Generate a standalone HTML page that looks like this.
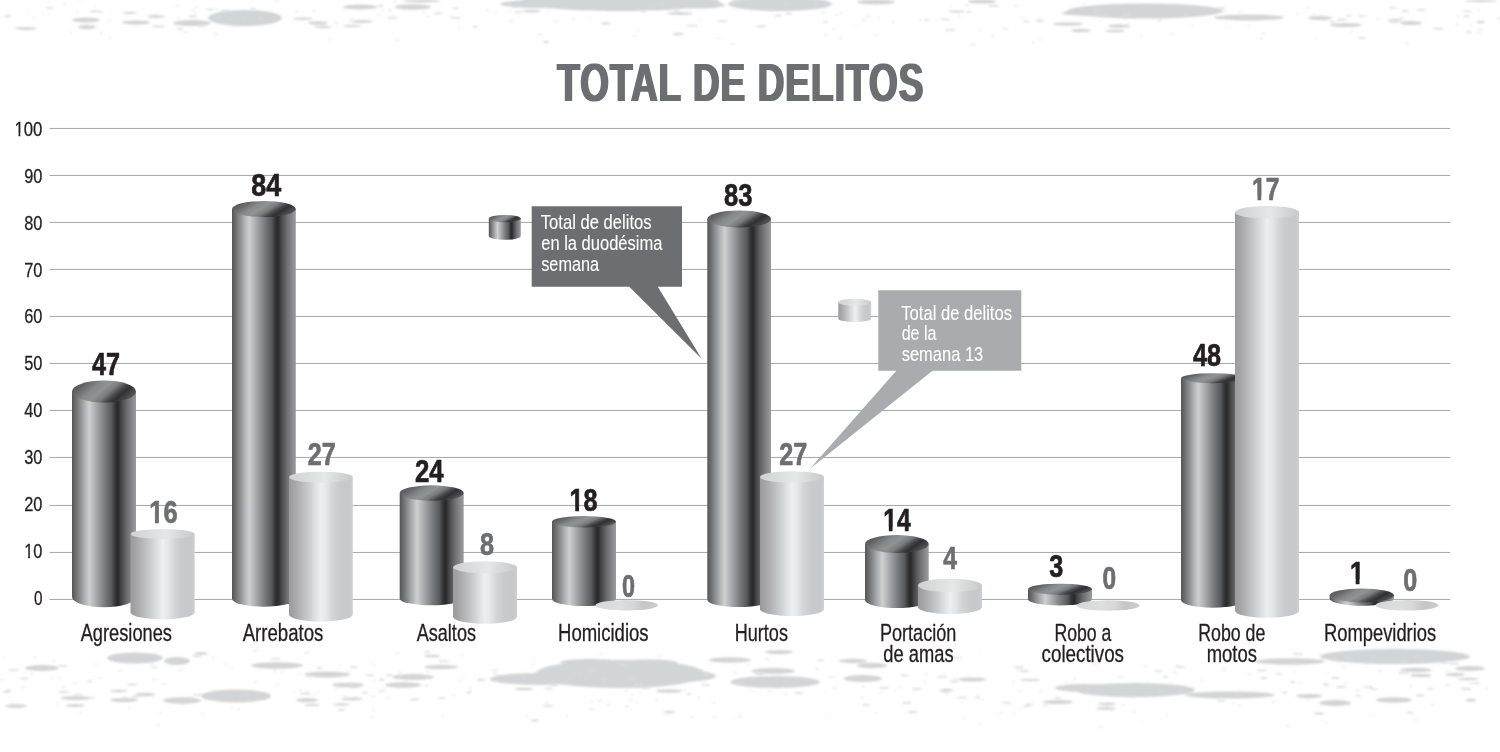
<!DOCTYPE html>
<html lang="es">
<head>
<meta charset="utf-8">
<title>Total de delitos</title>
<style>
html,body{margin:0;padding:0;background:#fff;}
body{width:1500px;height:752px;overflow:hidden;font-family:"Liberation Sans",sans-serif;}
svg{display:block;}
</style>
</head>
<body>
<svg width="1500" height="752" viewBox="0 0 1500 752" font-family="'Liberation Sans', sans-serif">
<defs>
<linearGradient id="gd" x1="0" y1="0" x2="1" y2="0"><stop offset="0" stop-color="#555556"/><stop offset="0.05" stop-color="#6a6a6b"/><stop offset="0.12" stop-color="#8a8b8d"/><stop offset="0.2" stop-color="#b0b1b3"/><stop offset="0.27" stop-color="#cdcfd1"/><stop offset="0.33" stop-color="#b9bbbd"/><stop offset="0.42" stop-color="#9a9b9f"/><stop offset="0.52" stop-color="#77787c"/><stop offset="0.62" stop-color="#58595c"/><stop offset="0.68" stop-color="#333335"/><stop offset="0.72" stop-color="#29292b"/><stop offset="0.78" stop-color="#4a4a4c"/><stop offset="0.86" stop-color="#6d6d70"/><stop offset="0.93" stop-color="#858588"/><stop offset="1" stop-color="#9c9c9f"/></linearGradient>
<linearGradient id="gl" x1="0" y1="0" x2="1" y2="0"><stop offset="0" stop-color="#9b9b9d"/><stop offset="0.05" stop-color="#a0a0a2"/><stop offset="0.15" stop-color="#b0b0b2"/><stop offset="0.3" stop-color="#c9cacc"/><stop offset="0.42" stop-color="#e0e1e3"/><stop offset="0.5" stop-color="#eeeff1"/><stop offset="0.58" stop-color="#e6e7e9"/><stop offset="0.68" stop-color="#d4d5d7"/><stop offset="0.8" stop-color="#c9cacc"/><stop offset="0.95" stop-color="#c7c8ca"/><stop offset="1" stop-color="#d0d0d2"/></linearGradient>
<linearGradient id="gdt" x1="0" y1="0.3" x2="1" y2="0.7"><stop offset="0" stop-color="#525254"/><stop offset="0.15" stop-color="#68686a"/><stop offset="0.32" stop-color="#88898b"/><stop offset="0.45" stop-color="#919294"/><stop offset="0.58" stop-color="#7a7b7d"/><stop offset="0.7" stop-color="#454547"/><stop offset="0.78" stop-color="#303032"/><stop offset="0.9" stop-color="#4a4a4c"/><stop offset="1" stop-color="#606062"/></linearGradient>
<linearGradient id="glt" x1="0" y1="0" x2="1" y2="0"><stop offset="0" stop-color="#cfd0d0"/><stop offset="0.3" stop-color="#dcdddd"/><stop offset="0.55" stop-color="#e6e7e7"/><stop offset="0.8" stop-color="#d4d5d5"/><stop offset="1" stop-color="#c8c9c9"/></linearGradient>
<linearGradient id="gz" x1="0" y1="0" x2="1" y2="0"><stop offset="0" stop-color="#d6d7d7"/><stop offset="0.4" stop-color="#dddfdf"/><stop offset="0.6" stop-color="#d6d7d7"/><stop offset="0.78" stop-color="#c5c5c6"/><stop offset="1" stop-color="#cdcdce"/></linearGradient>
<filter id="soft" x="-5%" y="-20%" width="110%" height="140%"><feGaussianBlur stdDeviation="0.9"/></filter>
<filter id="fat" x="-2%" y="-10%" width="104%" height="120%"><feMorphology operator="dilate" radius="1 0"/></filter>
<clipPath id="c1b"><path d="M-5 -30.80H123.20V12.32H18.48V-4.31H11.55V12.32H6.93V-4.31H-5Z"/></clipPath>
<clipPath id="c1r"><path d="M-5 -21.06H84.24V8.42H12.64V-2.32H7.27V8.42H5.05V-2.32H-5Z"/></clipPath>
</defs>
<rect width="1500" height="752" fill="#ffffff"/>
<g fill="#d1d2d3" filter="url(#soft)" opacity="0.95">
<ellipse cx="245" cy="18" rx="37" ry="8"/>
<ellipse cx="192" cy="23" rx="19" ry="3"/>
<ellipse cx="86" cy="20" rx="14" ry="2.5"/>
<ellipse cx="87" cy="27" rx="9" ry="2"/>
<ellipse cx="26" cy="28.5" rx="11" ry="1.5"/>
<ellipse cx="136" cy="22.5" rx="14" ry="2"/>
<ellipse cx="156" cy="16.5" rx="9" ry="1.5"/>
<ellipse cx="130" cy="13" rx="7" ry="1"/>
<ellipse cx="360" cy="7" rx="17" ry="2.5"/>
<ellipse cx="318" cy="23" rx="10" ry="1.7"/>
<ellipse cx="362" cy="21.5" rx="11" ry="1.5"/>
<ellipse cx="323" cy="27" rx="9" ry="1.2"/>
<ellipse cx="303" cy="18.7" rx="10" ry="1.2"/>
<ellipse cx="352" cy="26" rx="9" ry="1"/>
<ellipse cx="620" cy="2" rx="100" ry="9"/>
<ellipse cx="540" cy="4" rx="40" ry="4"/>
<ellipse cx="700" cy="5" rx="25" ry="3.5"/>
<ellipse cx="413" cy="7" rx="18" ry="2.7"/>
<ellipse cx="422" cy="1" rx="19" ry="1.5"/>
<ellipse cx="780" cy="4" rx="52" ry="7"/>
<ellipse cx="532" cy="11" rx="9" ry="1.3"/>
<ellipse cx="680" cy="13.5" rx="13" ry="1.5"/>
<ellipse cx="606" cy="23.5" rx="5" ry="1"/>
<ellipse cx="678" cy="34" rx="6" ry="1.2"/>
<ellipse cx="546" cy="42" rx="3" ry="1"/>
<ellipse cx="876" cy="2" rx="19" ry="2.5"/>
<ellipse cx="982" cy="1.5" rx="14" ry="2"/>
<ellipse cx="1145" cy="11" rx="78" ry="7.5"/>
<ellipse cx="1090" cy="13" rx="28" ry="3"/>
<ellipse cx="1068" cy="24" rx="15" ry="1.6"/>
<ellipse cx="1118" cy="26" rx="10" ry="1.8"/>
<ellipse cx="1081" cy="30.5" rx="10" ry="1.6"/>
<ellipse cx="1115" cy="31" rx="10" ry="1.3"/>
<ellipse cx="957" cy="11.5" rx="8" ry="1"/>
<ellipse cx="1249" cy="17.5" rx="35" ry="3"/>
<ellipse cx="1320" cy="18" rx="12" ry="2"/>
<ellipse cx="1346" cy="25" rx="16" ry="2"/>
<ellipse cx="1395" cy="20" rx="8" ry="1.2"/>
<ellipse cx="1411" cy="23" rx="11" ry="2"/>
<ellipse cx="1481" cy="22" rx="4" ry="1.3"/>
<ellipse cx="1481" cy="1" rx="16" ry="1.2"/>
<ellipse cx="135" cy="658" rx="28" ry="5.5"/>
<ellipse cx="177" cy="661" rx="13" ry="4"/>
<ellipse cx="42" cy="668" rx="17" ry="3"/>
<ellipse cx="277" cy="665.5" rx="26" ry="3.2"/>
<ellipse cx="327" cy="674.5" rx="23" ry="3"/>
<ellipse cx="348" cy="685" rx="16" ry="2.3"/>
<ellipse cx="236" cy="696" rx="35" ry="6.5"/>
<ellipse cx="182" cy="700.5" rx="19" ry="3.3"/>
<ellipse cx="124" cy="700" rx="14" ry="2"/>
<ellipse cx="145" cy="694.5" rx="10" ry="1.8"/>
<ellipse cx="75" cy="698" rx="14" ry="2"/>
<ellipse cx="75" cy="705.5" rx="10" ry="1.5"/>
<ellipse cx="16" cy="706" rx="11" ry="1.7"/>
<ellipse cx="307" cy="700" rx="11" ry="2"/>
<ellipse cx="352" cy="699" rx="11" ry="1.5"/>
<ellipse cx="312" cy="705" rx="8" ry="1"/>
<ellipse cx="341" cy="704.5" rx="9" ry="1.2"/>
<ellipse cx="119" cy="691" rx="9" ry="1.2"/>
<ellipse cx="201" cy="653.5" rx="7" ry="1.5"/>
<ellipse cx="620" cy="674" rx="85" ry="14"/>
<ellipse cx="540" cy="679" rx="50" ry="6"/>
<ellipse cx="680" cy="676" rx="36" ry="6"/>
<ellipse cx="590" cy="662" rx="30" ry="3"/>
<ellipse cx="650" cy="663" rx="28" ry="3.5"/>
<ellipse cx="413" cy="677" rx="21" ry="3"/>
<ellipse cx="403" cy="685" rx="18" ry="2.7"/>
<ellipse cx="441" cy="667" rx="17" ry="2"/>
<ellipse cx="432" cy="656" rx="8" ry="1.3"/>
<ellipse cx="730" cy="660" rx="21" ry="2.8"/>
<ellipse cx="775" cy="682" rx="45" ry="6"/>
<ellipse cx="773" cy="671" rx="22" ry="3"/>
<ellipse cx="669" cy="691" rx="13" ry="1.8"/>
<ellipse cx="524" cy="689" rx="9" ry="1.3"/>
<ellipse cx="669" cy="712" rx="6" ry="1"/>
<ellipse cx="535" cy="720.5" rx="4" ry="1"/>
<ellipse cx="779" cy="652" rx="14" ry="2"/>
<ellipse cx="853" cy="661" rx="14" ry="2.2"/>
<ellipse cx="872" cy="665.5" rx="15" ry="2.8"/>
<ellipse cx="863" cy="678.5" rx="19" ry="3.5"/>
<ellipse cx="972" cy="679.5" rx="14" ry="2"/>
<ellipse cx="947" cy="690" rx="7" ry="1.2"/>
<ellipse cx="1135" cy="690" rx="60" ry="7"/>
<ellipse cx="1230" cy="695" rx="45" ry="3.5"/>
<ellipse cx="1085" cy="688" rx="30" ry="4"/>
<ellipse cx="1058" cy="702" rx="15" ry="2"/>
<ellipse cx="1107" cy="704" rx="9" ry="1.5"/>
<ellipse cx="1106" cy="708.5" rx="10" ry="1.5"/>
<ellipse cx="1030" cy="680" rx="10" ry="1"/>
<ellipse cx="1395" cy="656.5" rx="75" ry="7.5"/>
<ellipse cx="1290" cy="661.5" rx="35" ry="3.2"/>
<ellipse cx="1416" cy="670" rx="16" ry="2.2"/>
<ellipse cx="1470" cy="668.5" rx="15" ry="2.5"/>
<ellipse cx="1421" cy="675.5" rx="11" ry="1.6"/>
<ellipse cx="1455" cy="674.5" rx="10" ry="1.6"/>
<ellipse cx="1468" cy="679" rx="11" ry="1.2"/>
<ellipse cx="1309" cy="696" rx="13" ry="2"/>
<ellipse cx="1335" cy="703" rx="16" ry="3"/>
<ellipse cx="1394" cy="700" rx="18" ry="2.7"/>
<ellipse cx="1471" cy="700" rx="5" ry="1.6"/>
<ellipse cx="1319" cy="713.5" rx="5" ry="1"/>
</g>
<g fill="none" stroke-linecap="round" filter="url(#soft)">
<path d="M486 10.1h2.8M109 20.5h1.8M87 19.6h0.6M650 6.9h0.8M637 31.2h0.9M335 23.3h3.8M866 16.6h3.9M70 32.8h1.5M216 8.9h1.6M1224 11.0h2.5M958 16.0h2.4M94 6.3h1.2M1021 17.4h1.6M878 18.1h1.5M1192 25.8h1.4M862 20.2h3.6M1094 13.9h3.9M177 17.2h3.1M228 19.1h0.6M1002 28.4h2.5M1313 14.5h2.9M892 21.8h2.1M1260 38.5h2.2M996 6.4h3.0M971 44.6h3.4M427 16.3h2.8M34 18.4h1.1M176 6.3h3.2M194 12.9h1.9M1307 7.4h2.1M824 34.2h3.4M1296 13.7h2.0M538 34.3h3.9M226 10.9h1.3M350 19.0h2.6M394 1.7h2.0M554 21.4h3.8M1036 19.9h2.7M1014 6.0h3.6M1170 33.7h3.3M589 16.7h0.9M951 6.5h0.7M313 10.4h1.7M79 0.4h1.0M152 15.8h0.6M1311 22.9h1.0M378 15.4h1.8M184 32.3h4.0M699 19.0h0.8M153 15.2h1.4M1243 10.4h0.6M1426 20.3h1.0M815 4.3h2.3M1468 33.1h2.9M392 15.9h1.1M1158 20.4h3.2M494 12.2h3.3M1477 32.5h3.3M1227 27.4h1.3M776 15.6h0.6M42 13.7h1.4M1039 39.6h2.1M1406 43.6h3.8M547 12.2h1.3M295 11.7h2.7M1350 31.9h2.2M979 29.9h0.8M991 35.9h3.2M1125 18.8h1.1M1184 15.0h3.3M1457 16.6h1.9M1420 26.8h1.1M191 10.1h3.7M1210 9.9h3.4M1470 24.3h1.7M823 9.4h0.5M1456 24.1h2.3M1400 17.6h3.6M1239 11.9h1.4M439 12.7h2.6M389 17.2h1.0M1365 15.5h2.1M875 35.5h2.0M1377 19.5h2.4M785 3.5h2.0M275 1.6h3.3M259 18.7h3.0M835 14.8h2.3M833 29.2h0.9M840 12.9h1.5M1158 19.7h2.5M1140 36.0h2.1M919 19.6h2.3M1039 18.1h2.4M717 38.2h2.9M1315 38.3h1.4M839 38.4h3.4M206 9.0h2.0M109 12.7h0.8M1004 29.2h3.6M232 26.5h2.8M214 34.2h3.9M329 39.2h1.9M731 43.9h3.4M242 17.5h2.3M509 11.5h1.6M1083 3.6h2.4M661 3.5h1.7M936 19.8h0.7M1478 29.4h3.9M157 13.4h0.6M1168 13.5h1.0M633 36.0h3.4M388 10.0h3.7M856 25.9h0.8M86 25.4h2.0M109 38.0h2.7M1202 7.5h3.5M100 33.0h2.1M509 21.0h3.7M402 9.3h2.3M358 8.6h1.1M76 11.6h1.6M458 28.2h1.5M750 10.9h1.7M27 13.0h0.6M1100 20.9h1.2M712 37.7h0.9M1228 17.6h2.2M1252 16.5h2.3M1032 42.6h1.7M1248 26.1h2.7M607 15.4h0.7M195 6.9h3.1M383 10.5h0.8M1262 33.5h2.8M423 12.8h1.5M689 10.3h2.1M395 40.1h3.9M821 12.8h3.9M464 15.6h0.5M572 18.7h2.3M301 19.6h0.5M396 7.8h1.9M63 3.9h1.6M349 22.0h2.4M1126 24.4h3.0M1319 16.4h1.6M1477 10.0h3.0M965 5.4h3.4" stroke="#dfe0e0" stroke-width="1"/>
<path d="M1338 19.6h7.4M1218 8.2h6.1M757 26.4h7.8M1240 18.4h8.4M1024 21.5h4.4M47 8.0h5.2M157 26.4h6.4M942 19.5h7.1M734 1.3h7.8M1122 16.4h6.2M989 5.6h7.4M378 6.0h4.6M1094 9.9h7.4M1464 16.2h5.3M719 21.2h7.6M925 20.0h3.5M221 11.0h7.5M457 18.0h3.1M91 11.4h7.0M1038 20.9h4.7M775 15.5h5.8M178 29.1h4.2M1467 31.6h3.1M688 25.8h8.8M674 11.4h4.3M1418 10.1h6.5M213 16.9h8.7M199 25.8h6.1M1330 21.8h4.4M1347 16.0h3.1M5 16.1h5.7M453 8.2h5.1M474 26.6h3.0M1126 26.6h3.7M1390 22.1h8.4M435 13.5h5.4M1498 18.5h5.2M642 11.5h3.3M153 26.4h4.7M1403 10.9h4.6M766 9.5h5.2M1434 28.6h7.9M946 30.2h8.6M824 22.3h3.3M1099 15.2h7.5M967 11.7h3.3M1390 7.8h5.8M515 12.0h7.4M1464 11.2h6.9M451 17.7h5.4M251 8.8h4.2M1359 16.3h4.3M1359 38.0h5.7M209 9.6h3.5M513 6.6h4.4M388 18.0h8.3M1124 14.4h5.5M786 13.6h5.0M93 11.5h8.8M189 16.4h6.8" stroke="#dadbdb" stroke-width="1.6"/>
<path d="M1294 671.8h1.4M373 680.4h2.1M1431 705.1h3.6M33 657.2h3.0M1344 683.5h2.6M0 680.1h3.7M1238 705.7h3.9M373 664.9h1.0M784 693.9h3.8M1083 692.0h3.2M686 687.1h0.6M1173 672.7h3.7M968 676.2h0.9M378 691.4h2.9M168 661.6h2.3M874 679.9h1.3M902 653.2h1.6M691 717.0h2.8M1326 683.6h1.3M371 717.3h3.0M461 655.6h2.2M1012 681.2h1.4M1001 712.5h1.3M51 677.8h2.0M1024 670.8h3.3M1109 684.9h1.2M1455 676.6h3.4M346 672.1h3.2M442 716.0h2.2M281 672.2h2.0M998 715.5h1.0M590 671.6h3.9M213 659.7h0.7M590 709.6h3.6M1099 726.8h3.8M494 670.1h3.8M1119 657.1h2.8M568 679.3h1.7M254 650.7h1.5M527 716.5h0.9M1446 671.3h1.7M1232 703.0h2.0M74 683.5h1.8M1379 670.5h1.8M1345 656.9h1.9M1218 699.1h0.6M52 660.8h3.7M386 697.8h3.6M509 674.7h3.9M925 674.2h3.0M475 674.9h0.5M1133 711.5h2.7M1415 656.0h1.3M713 716.7h3.8M580 673.7h2.0M740 712.8h1.1M1204 697.3h3.4M1159 689.9h1.6M479 678.8h3.2M119 670.8h3.1M371 661.0h0.6M829 677.2h3.9M1325 722.9h1.4M126 663.9h2.2M1065 682.4h1.3M625 690.5h2.9M1122 705.0h2.8M182 704.5h1.5M850 679.3h3.1M299 673.5h1.4M230 708.2h2.5M490 680.2h4.0M761 672.6h3.3M980 723.9h0.9M712 702.8h3.4M1372 658.3h1.5M179 670.3h3.9M875 713.1h1.8M1299 682.5h1.4M1167 715.1h0.9M894 690.5h1.3M553 667.3h1.2M382 689.5h2.8M305 653.5h1.6M1017 670.0h1.6M305 701.0h2.4M95 664.3h1.9M825 691.5h0.8M246 694.7h1.9M425 676.4h3.8M469 687.8h1.8M625 706.4h4.0M546 670.7h3.0M306 651.9h3.7M636 702.9h1.9M1324 683.0h1.1M22 687.1h2.7M1365 663.3h2.7M556 684.9h1.0M425 685.7h3.7M163 684.3h3.3M1450 670.8h0.9M1415 720.0h2.2M80 712.6h1.9M1356 690.5h3.4M240 700.4h1.3M607 704.9h3.4M274 671.9h1.9M777 679.7h0.9M371 696.4h3.6M62 687.6h3.2M57 704.2h0.9M899 687.0h2.7M459 681.2h2.5M639 692.6h2.1M658 655.8h2.7M734 672.8h3.2M1170 682.9h1.1M710 664.8h0.9M646 663.5h2.0M765 658.3h2.7M123 696.9h3.2M767 659.9h2.3M567 715.8h1.0M1286 726.0h3.1M1222 670.5h3.9M738 716.7h3.7M248 700.5h3.8M98 678.3h3.1M238 709.4h1.5M1223 667.4h2.3M1380 671.4h1.4M759 676.9h0.6M273 668.6h3.8M1020 709.3h1.1M1177 665.4h2.4M954 678.7h3.6M833 688.5h3.6M157 724.6h2.7M591 701.2h1.4M1486 688.4h1.8M1147 682.2h1.1M1115 659.3h3.4M380 691.5h3.9M879 692.9h1.6M3 657.4h1.0M924 681.8h2.3M1343 666.6h1.3M980 655.6h0.5M532 664.7h1.8M336 688.7h2.6M306 690.7h2.2M202 713.9h1.4M224 663.9h2.7M1307 700.1h1.9M396 653.5h2.8M843 678.3h2.8M666 713.9h3.1M373 710.1h0.7M797 680.6h1.3M88 699.9h0.5M826 714.4h1.0M299 689.9h2.3M962 702.3h1.1M464 676.1h0.7M1334 700.2h3.0M10 704.7h3.1M698 697.5h2.1M339 664.6h1.3M58 677.7h3.1M1043 704.8h3.0M399 687.2h2.0M1183 685.8h1.4M963 718.0h1.3M1320 654.3h1.4M354 697.6h3.8M1119 677.3h3.6M493 673.1h3.7M946 694.5h2.8M1469 683.4h3.4M1046 705.8h2.0M1087 688.0h1.6M318 690.7h0.8M1366 667.5h0.6M160 712.9h1.7M213 656.7h0.6M1039 691.3h2.9M1105 661.1h2.6M545 702.7h3.4M1337 661.2h3.5M1372 714.9h0.9M309 665.1h0.6M1272 702.2h2.7M1238 691.1h1.5M150 664.0h3.2M307 676.9h2.0M31 674.0h1.5M1074 679.1h1.6M1446 684.9h3.5M927 657.0h1.9M655 699.5h1.7M1057 686.5h1.3M1293 663.4h3.4M256 649.8h1.2M1143 720.5h0.5M736 684.3h3.3M277 684.5h1.7M1248 674.1h3.8M426 671.7h2.9M747 665.0h2.7M121 700.5h2.9M1180 690.9h1.7M602 680.2h3.6M129 708.6h0.6M309 674.3h3.7M752 679.5h3.6M350 683.0h2.4M1132 698.2h2.8M523 677.3h1.0M1265 692.8h3.1M254 682.0h3.2M869 666.2h2.1M1328 673.0h1.2M452 695.1h3.5M232 668.2h1.4M490 685.7h1.1M492 670.3h3.9M1093 664.3h3.9M152 679.8h3.9M1192 696.9h2.0M294 691.5h0.9M310 679.9h0.6M599 700.7h2.9M751 691.2h2.1M213 689.7h1.9M1111 710.6h2.0M861 697.9h2.0M343 696.3h3.6M1161 694.9h3.5M1019 691.7h2.1M470 691.0h0.8M629 700.1h3.0M944 673.6h2.0M683 690.6h1.9M1013 713.1h1.1M982 699.8h1.9M735 719.8h0.6M815 668.5h3.2M1411 685.6h0.9M862 686.6h3.0M768 691.5h3.4M783 680.8h3.8M315 694.0h1.9M1144 665.9h3.9M533 660.2h1.5M600 653.9h2.0M631 694.8h1.7M398 672.3h3.1M1410 686.0h1.3M1202 680.1h1.2" stroke="#dfe0e0" stroke-width="1"/>
<path d="M194 695.0h7.9M951 681.4h6.4M339 709.9h5.1M958 697.5h7.9M702 674.9h6.3M188 698.4h5.1M1276 673.7h5.3M380 679.9h4.1M4 692.1h4.7M367 675.2h5.9M643 688.1h7.0M544 705.9h8.1M86 698.0h8.4M1176 667.2h8.0M950 655.6h3.1M1428 689.0h4.5M152 667.3h4.4M1164 677.0h3.9M1356 695.8h4.0M1337 686.9h7.7M1003 702.8h7.7M1258 670.4h7.2M796 693.1h5.6M1324 684.7h4.6M351 667.1h6.0M88 681.4h3.9M737 682.5h6.2M1294 653.7h8.0M702 685.0h7.0M1261 678.1h5.5M1441 662.6h6.8M954 657.7h6.7M1024 706.2h5.0M1473 683.0h5.9M1346 658.4h7.3M938 676.7h8.2M549 681.6h6.2M1156 671.0h5.6M634 684.7h8.0M439 698.0h5.4M756 673.9h6.0M1462 688.9h7.8M496 675.8h4.8M880 688.0h7.7M60 692.1h8.3M818 660.2h4.8M9 670.0h8.5M913 689.1h7.7M1365 687.0h6.7M940 690.8h6.6M1021 671.1h7.0M687 694.2h3.6M272 658.8h7.6M1371 689.0h5.2M1234 695.6h6.4M387 675.2h5.5M478 680.1h6.9M1401 660.7h6.4M59 665.8h7.9M863 704.9h5.7M21 678.5h6.6M1407 712.7h5.9M619 664.6h6.9M318 667.9h3.1M7 690.2h3.7M1450 663.6h8.2M193 656.1h7.3M363 692.7h4.1M75 694.8h7.3M1283 692.5h3.5M943 691.5h5.8M1399 673.1h8.8M1076 654.9h3.1M976 697.4h3.5M467 692.5h4.0M1291 682.1h3.4M551 685.5h5.6M1015 667.4h7.8M545 688.5h6.8M627 678.5h7.7M1417 695.4h6.4M439 661.3h8.8M1055 698.0h5.0M909 712.1h8.0M902 675.5h5.6M1332 678.1h7.1M903 702.9h7.8M425 651.9h4.6M634 686.0h7.9M1331 659.4h8.0M1218 700.7h6.4M411 699.6h7.8M1027 704.5h5.1M128 684.6h7.8M301 693.6h8.6M351 686.8h7.1M698 670.8h4.5M1127 695.8h5.8M132 696.7h7.6M349 685.7h8.4" stroke="#dadbdb" stroke-width="1.6"/>
</g>
<g stroke="#a6a7a9" stroke-width="1">
<line x1="49.5" y1="599.45" x2="1450.3" y2="599.45"/>
<line x1="49.5" y1="552.45" x2="1450.3" y2="552.45"/>
<line x1="49.5" y1="505.45" x2="1450.3" y2="505.45"/>
<line x1="49.5" y1="457.45" x2="1450.3" y2="457.45"/>
<line x1="49.5" y1="410.45" x2="1450.3" y2="410.45"/>
<line x1="49.5" y1="363.45" x2="1450.3" y2="363.45"/>
<line x1="49.5" y1="316.45" x2="1450.3" y2="316.45"/>
<line x1="49.5" y1="269.45" x2="1450.3" y2="269.45"/>
<line x1="49.5" y1="222.45" x2="1450.3" y2="222.45"/>
<line x1="49.5" y1="175.45" x2="1450.3" y2="175.45"/>
<line x1="49.5" y1="128.45" x2="1450.3" y2="128.45"/>
</g>
<text transform="translate(33.90 604.80) scale(0.7259 1)" font-size="21.06" stroke="#231f20" stroke-width="0.3" fill="#231f20">0</text>
<text transform="translate(24.20 557.90) scale(0.7772 1)" font-size="21.06" stroke="#231f20" stroke-width="0.3" fill="#231f20" clip-path="url(#c1r)">10</text>
<text transform="translate(24.20 511.00) scale(0.7772 1)" font-size="21.06" stroke="#231f20" stroke-width="0.3" fill="#231f20">20</text>
<text transform="translate(24.20 464.10) scale(0.7772 1)" font-size="21.06" stroke="#231f20" stroke-width="0.3" fill="#231f20">30</text>
<text transform="translate(24.20 417.20) scale(0.7772 1)" font-size="21.06" stroke="#231f20" stroke-width="0.3" fill="#231f20">40</text>
<text transform="translate(24.20 370.30) scale(0.7772 1)" font-size="21.06" stroke="#231f20" stroke-width="0.3" fill="#231f20">50</text>
<text transform="translate(24.20 323.40) scale(0.7772 1)" font-size="21.06" stroke="#231f20" stroke-width="0.3" fill="#231f20">60</text>
<text transform="translate(24.20 276.50) scale(0.7772 1)" font-size="21.06" stroke="#231f20" stroke-width="0.3" fill="#231f20">70</text>
<text transform="translate(24.20 229.60) scale(0.7772 1)" font-size="21.06" stroke="#231f20" stroke-width="0.3" fill="#231f20">80</text>
<text transform="translate(24.20 182.70) scale(0.7772 1)" font-size="21.06" stroke="#231f20" stroke-width="0.3" fill="#231f20">90</text>
<text transform="translate(14.50 135.80) scale(0.7942 1)" font-size="21.06" stroke="#231f20" stroke-width="0.3" fill="#231f20" clip-path="url(#c1r)">100</text>
<path d="M531.7 206.2H682V286.7H657.8L701.7 358.8L629.3 286.7H531.7Z" fill="#6d6e71"/>
<path d="M878.3 290.3H1021.3V370.8H932.5L810 468.7L896.3 370.8H878.3Z" fill="#a9abae"/>
<text transform="translate(540.80 229.20) scale(0.8054 1)" font-size="20.64" stroke="#ffffff" stroke-width="0.12" fill="#ffffff">Total de delitos</text>
<text transform="translate(541.20 250.00) scale(0.8008 1)" font-size="20.64" stroke="#ffffff" stroke-width="0.12" fill="#ffffff">en la duodésima</text>
<text transform="translate(541.20 270.80) scale(0.7898 1)" font-size="20.64" stroke="#ffffff" stroke-width="0.12" fill="#ffffff">semana</text>
<text transform="translate(901.30 319.70) scale(0.8040 1)" font-size="20.64" stroke="#ffffff" stroke-width="0.12" fill="#ffffff">Total de delitos</text>
<text transform="translate(901.70 340.30) scale(0.7773 1)" font-size="20.64" stroke="#ffffff" stroke-width="0.12" fill="#ffffff">de la</text>
<text transform="translate(901.70 361.30) scale(0.7990 1)" font-size="20.64" stroke="#ffffff" stroke-width="0.12" fill="#ffffff">semana 13</text>
<path d="M72.00 391.50V596.80A32.00 10.50 0 0 0 136.00 596.80V391.50Z" fill="url(#gd)"/>
<ellipse cx="104.00" cy="391.50" rx="32.00" ry="11.00" fill="url(#gdt)"/>
<path d="M130.50 534.00V612.30A32.10 7.00 0 0 0 194.70 612.30V534.00Z" fill="url(#gl)"/>
<ellipse cx="162.60" cy="534.00" rx="32.10" ry="5.00" fill="url(#glt)"/>
<path d="M232.00 209.00V598.70A31.90 8.00 0 0 0 295.80 598.70V209.00Z" fill="url(#gd)"/>
<ellipse cx="263.90" cy="209.00" rx="31.90" ry="8.00" fill="url(#gdt)"/>
<path d="M289.00 477.20V614.60A31.90 7.00 0 0 0 352.80 614.60V477.20Z" fill="url(#gl)"/>
<ellipse cx="320.90" cy="477.20" rx="31.90" ry="5.50" fill="url(#glt)"/>
<path d="M399.70 493.00V598.70A32.00 6.60 0 0 0 463.70 598.70V493.00Z" fill="url(#gd)"/>
<ellipse cx="431.70" cy="493.00" rx="32.00" ry="7.70" fill="url(#gdt)"/>
<path d="M453.00 567.30V616.70A32.00 7.00 0 0 0 517.00 616.70V567.30Z" fill="url(#gl)"/>
<ellipse cx="485.00" cy="567.30" rx="32.00" ry="6.00" fill="url(#glt)"/>
<path d="M552.00 521.70V599.00A32.00 7.00 0 0 0 616.00 599.00V521.70Z" fill="url(#gd)"/>
<ellipse cx="584.00" cy="521.70" rx="32.00" ry="5.70" fill="url(#gdt)"/>
<ellipse cx="626.7" cy="605.2" rx="31.3" ry="5.2" fill="url(#gz)"/>
<path d="M707.30 218.90V600.00A31.85 7.00 0 0 0 771.00 600.00V218.90Z" fill="url(#gd)"/>
<ellipse cx="739.15" cy="218.90" rx="31.85" ry="8.50" fill="url(#gdt)"/>
<path d="M760.00 477.00V609.30A32.00 6.70 0 0 0 824.00 609.30V477.00Z" fill="url(#gl)"/>
<ellipse cx="792.00" cy="477.00" rx="32.00" ry="5.70" fill="url(#glt)"/>
<path d="M865.00 544.00V600.00A31.85 8.00 0 0 0 928.70 600.00V544.00Z" fill="url(#gd)"/>
<ellipse cx="896.85" cy="544.00" rx="31.85" ry="9.00" fill="url(#gdt)"/>
<path d="M918.00 585.40V607.30A32.00 6.70 0 0 0 982.00 607.30V585.40Z" fill="url(#gl)"/>
<ellipse cx="950.00" cy="585.40" rx="32.00" ry="6.70" fill="url(#glt)"/>
<path d="M1028.00 589.20V599.30A32.00 6.30 0 0 0 1092.00 599.30V589.20Z" fill="url(#gd)"/>
<ellipse cx="1060.00" cy="589.20" rx="32.00" ry="5.50" fill="url(#gdt)"/>
<ellipse cx="1108.2" cy="605.5" rx="31.5" ry="5.2" fill="url(#gz)"/>
<path d="M1181.00 378.20V600.00A32.00 7.70 0 0 0 1245.00 600.00V378.20Z" fill="url(#gd)"/>
<ellipse cx="1213.00" cy="378.20" rx="32.00" ry="5.00" fill="url(#gdt)"/>
<path d="M1235.00 212.30V610.70A32.00 7.00 0 0 0 1299.00 610.70V212.30Z" fill="url(#gl)"/>
<ellipse cx="1267.00" cy="212.30" rx="32.00" ry="6.30" fill="url(#glt)"/>
<path d="M1329.60 595.40V598.50A32.20 7.20 0 0 0 1394.00 598.50V595.40Z" fill="url(#gd)"/>
<ellipse cx="1361.80" cy="595.40" rx="32.20" ry="7.00" fill="url(#gdt)"/>
<ellipse cx="1406.9" cy="605.3" rx="31.5" ry="5.3" fill="url(#gz)"/>
<path d="M488.80 218.60V236.10A16.00 3.60 0 0 0 520.80 236.10V218.60Z" fill="url(#gd)"/>
<ellipse cx="504.80" cy="218.60" rx="16.00" ry="3.60" fill="url(#gdt)"/>
<path d="M838.30 302.30V318.40A16.45 3.60 0 0 0 871.20 318.40V302.30Z" fill="url(#gl)"/>
<ellipse cx="854.75" cy="302.30" rx="16.45" ry="3.60" fill="url(#glt)"/>
<text transform="translate(92.00 375.30) scale(0.8175 1)" font-size="30.8" font-weight="bold" fill="#231f20" stroke="#231f20" stroke-width="0.7" stroke-linejoin="round">47</text>
<text transform="translate(251.30 196.40) scale(0.8730 1)" font-size="30.8" font-weight="bold" fill="#231f20" stroke="#231f20" stroke-width="0.7" stroke-linejoin="round">84</text>
<text transform="translate(415.00 481.70) scale(0.8380 1)" font-size="30.8" font-weight="bold" fill="#231f20" stroke="#231f20" stroke-width="0.7" stroke-linejoin="round">24</text>
<text transform="translate(569.60 511.30) scale(0.8175 1)" font-size="30.8" font-weight="bold" fill="#231f20" stroke="#231f20" stroke-width="0.7" stroke-linejoin="round" clip-path="url(#c1b)">18</text>
<text transform="translate(724.00 206.00) scale(0.8292 1)" font-size="30.8" font-weight="bold" fill="#231f20" stroke="#231f20" stroke-width="0.7" stroke-linejoin="round">83</text>
<text transform="translate(883.30 531.30) scale(0.8000 1)" font-size="30.8" font-weight="bold" fill="#231f20" stroke="#231f20" stroke-width="0.7" stroke-linejoin="round" clip-path="url(#c1b)">14</text>
<text transform="translate(1049.30 577.30) scale(0.8175 1)" font-size="30.8" font-weight="bold" fill="#231f20" stroke="#231f20" stroke-width="0.7" stroke-linejoin="round">3</text>
<text transform="translate(1193.00 365.60) scale(0.8175 1)" font-size="30.8" font-weight="bold" fill="#231f20" stroke="#231f20" stroke-width="0.7" stroke-linejoin="round">48</text>
<text transform="translate(1350.00 583.60) scale(0.8205 1)" font-size="30.8" font-weight="bold" fill="#231f20" stroke="#231f20" stroke-width="0.7" stroke-linejoin="round" clip-path="url(#c1b)">1</text>
<text transform="translate(149.30 523.30) scale(0.8263 1)" font-size="30.8" font-weight="bold" fill="#6d6e70" stroke="#6d6e70" stroke-width="0.7" stroke-linejoin="round" clip-path="url(#c1b)">16</text>
<text transform="translate(307.70 465.30) scale(0.8175 1)" font-size="30.8" font-weight="bold" fill="#6d6e70" stroke="#6d6e70" stroke-width="0.7" stroke-linejoin="round">27</text>
<text transform="translate(480.00 555.30) scale(0.8175 1)" font-size="30.8" font-weight="bold" fill="#6d6e70" stroke="#6d6e70" stroke-width="0.7" stroke-linejoin="round">8</text>
<text transform="translate(622.00 596.70) scale(0.7591 1)" font-size="30.8" font-weight="bold" fill="#6d6e70" stroke="#6d6e70" stroke-width="0.7" stroke-linejoin="round">0</text>
<text transform="translate(779.30 465.00) scale(0.8175 1)" font-size="30.8" font-weight="bold" fill="#6d6e70" stroke="#6d6e70" stroke-width="0.7" stroke-linejoin="round">27</text>
<text transform="translate(943.30 568.70) scale(0.8000 1)" font-size="30.8" font-weight="bold" fill="#6d6e70" stroke="#6d6e70" stroke-width="0.7" stroke-linejoin="round">4</text>
<text transform="translate(1102.40 588.70) scale(0.7942 1)" font-size="30.8" font-weight="bold" fill="#6d6e70" stroke="#6d6e70" stroke-width="0.7" stroke-linejoin="round">0</text>
<text transform="translate(1252.00 200.40) scale(0.7971 1)" font-size="30.8" font-weight="bold" fill="#6d6e70" stroke="#6d6e70" stroke-width="0.7" stroke-linejoin="round" clip-path="url(#c1b)">17</text>
<text transform="translate(1403.30 591.30) scale(0.8175 1)" font-size="30.8" font-weight="bold" fill="#6d6e70" stroke="#6d6e70" stroke-width="0.7" stroke-linejoin="round">0</text>
<text transform="translate(80.70 640.70) scale(0.7846 1)" font-size="23.26" stroke="#231f20" stroke-width="0.3" fill="#231f20">Agresiones</text>
<text transform="translate(242.70 640.70) scale(0.7993 1)" font-size="23.26" stroke="#231f20" stroke-width="0.3" fill="#231f20">Arrebatos</text>
<text transform="translate(416.70 640.70) scale(0.7775 1)" font-size="23.26" stroke="#231f20" stroke-width="0.3" fill="#231f20">Asaltos</text>
<text transform="translate(558.00 640.70) scale(0.7974 1)" font-size="23.26" stroke="#231f20" stroke-width="0.3" fill="#231f20">Homicidios</text>
<text transform="translate(734.70 640.70) scale(0.7781 1)" font-size="23.26" stroke="#231f20" stroke-width="0.3" fill="#231f20">Hurtos</text>
<text transform="translate(880.00 640.50) scale(0.7764 1)" font-size="23.26" stroke="#231f20" stroke-width="0.3" fill="#231f20">Portación</text>
<text transform="translate(883.30 661.70) scale(0.7881 1)" font-size="23.26" stroke="#231f20" stroke-width="0.3" fill="#231f20">de amas</text>
<text transform="translate(1054.40 640.50) scale(0.7585 1)" font-size="23.26" stroke="#231f20" stroke-width="0.3" fill="#231f20">Robo a</text>
<text transform="translate(1041.60 661.70) scale(0.8068 1)" font-size="23.26" stroke="#231f20" stroke-width="0.3" fill="#231f20">colectivos</text>
<text transform="translate(1198.30 640.50) scale(0.7618 1)" font-size="23.26" stroke="#231f20" stroke-width="0.3" fill="#231f20">Robo de</text>
<text transform="translate(1206.70 661.70) scale(0.7942 1)" font-size="23.26" stroke="#231f20" stroke-width="0.3" fill="#231f20">motos</text>
<text transform="translate(1324.00 640.70) scale(0.7898 1)" font-size="23.26" stroke="#231f20" stroke-width="0.3" fill="#231f20">Rompevidrios</text>
<text transform="translate(557.30 101.20) scale(0.6947 1)" font-size="53.05" font-weight="bold" fill="#6d6e71" filter="url(#fat)" letter-spacing="1.6">TOTAL DE DELITOS</text>
</svg>
</body>
</html>
